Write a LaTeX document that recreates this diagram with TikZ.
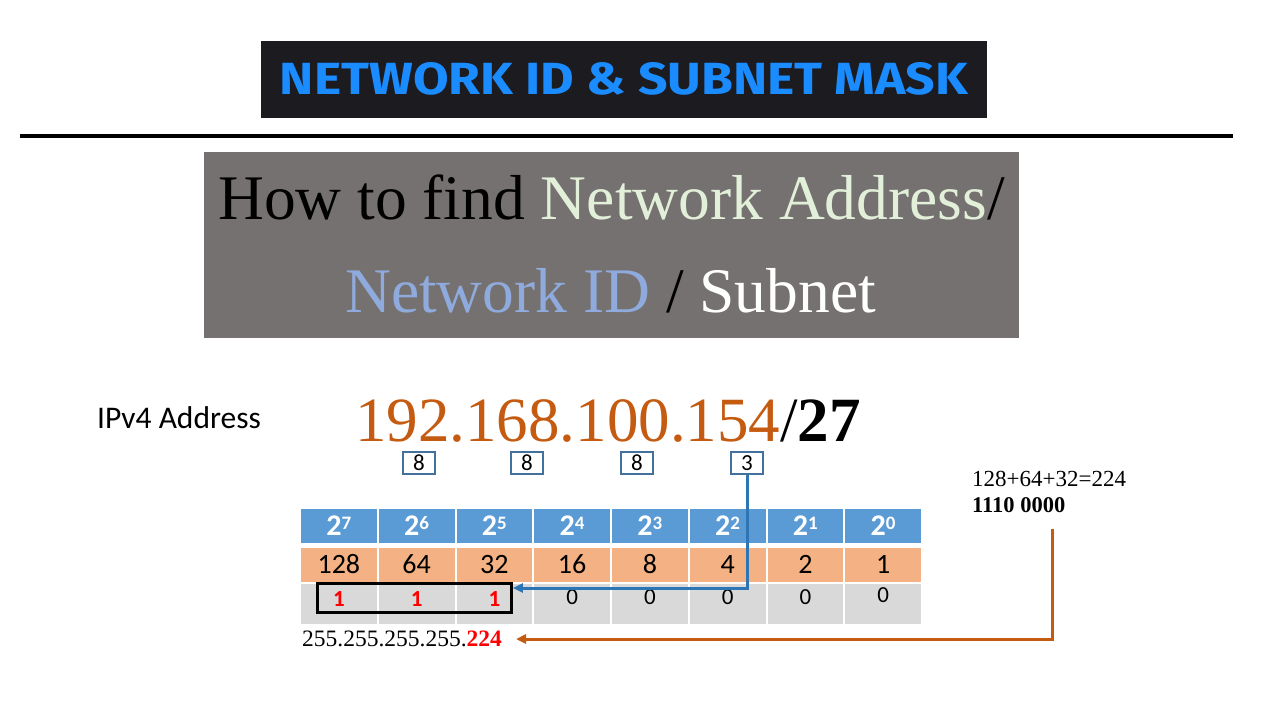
\documentclass[tikz,border=0pt]{standalone}
\usepackage{fontspec}
\setmainfont{Liberation Serif}
\newfontfamily\calib{Carlito}
\newfontfamily\bannerf{Fira Sans}
\usetikzlibrary{arrows.meta}
\definecolor{bannerbg}{HTML}{1B1B20}
\definecolor{bannerblue}{HTML}{1A8CFF}
\definecolor{greybox}{HTML}{767171}
\definecolor{lgreen}{HTML}{E2F0D9}
\definecolor{lblue}{HTML}{8FAADC}
\definecolor{ipor}{HTML}{C55A11}
\definecolor{boxblue}{HTML}{41719C}
\definecolor{lineblue}{HTML}{2E75B6}
\definecolor{hdrblue}{HTML}{5B9BD5}
\definecolor{rowor}{HTML}{F4B183}
\definecolor{rowgr}{HTML}{D9D9D9}
\definecolor{redt}{HTML}{FF0000}
\begin{document}
\begin{tikzpicture}[x=1pt,y=-1pt,
  txt/.style={inner sep=0pt, anchor=base west},
  bitbox/.style={draw=boxblue, line width=1.5pt, fill=white, minimum width=32pt, minimum height=22pt, inner sep=0pt, font=\calib\fontsize{23}{23}\selectfont},
  cell/.style={minimum width=75.75pt, inner sep=0pt, draw=none},
  hdrcell/.style={cell, fill=hdrblue, minimum height=34pt, text=white, font=\calib\bfseries\fontsize{30}{30}\selectfont},
  valcell/.style={cell, fill=rowor, minimum height=34pt, font=\calib\fontsize{28}{28}\selectfont},
  bitcell/.style={cell, fill=rowgr, minimum height=40pt},
  bitval/.style={inner sep=0pt, font=\calib\fontsize{23}{23}\selectfont},
  redbit/.style={inner sep=0pt, text=redt, font=\calib\bfseries\fontsize{23}{23}\selectfont},
  conn/.style={line width=3pt, -{Triangle[length=10pt,width=9pt]}}
]
\useasboundingbox[fill=white] (0,0) rectangle (1280,720);

% banner
\node[fill=bannerbg, minimum width=726pt, minimum height=77pt, inner sep=0pt] (banner) at (624,79.5) {};
\node[inner sep=0pt, text=bannerblue] (bannertxt) at (624,78.5)
  {\resizebox{688pt}{32pt}{\bannerf\bfseries\fontsize{46}{46}\selectfont NETWORK ID \& SUBNET MASK}};

% rule
\coordinate (rl) at (20,136);
\coordinate (rr) at (1233,136);
\draw[line width=4pt] (rl) -- (rr);

% grey title box
\node[fill=greybox, minimum width=815pt, minimum height=186pt, inner sep=0pt] (gbox) at (611.5,245) {};
\node[txt] (t1) at (218,219) {\fontsize{63.5}{63.5}\selectfont How to find \textcolor{lgreen}{Network Address}/};
\node[txt] (t2) at (345,312) {\fontsize{63.5}{63.5}\selectfont \textcolor{lblue}{Network ID} / \textcolor{white}{Subnet}};

% IPv4 line
\node[txt] (ipl) at (97,428) {\calib\fontsize{31.5}{31.5}\selectfont IPv4 Address};
\node[txt] (ip) at (355,441) {\fontsize{63}{63}\selectfont \textcolor{ipor}{192.168.100.154}/\textbf{27}};

% bit count boxes
\node[bitbox] (n1) at (419,463) {8};
\node[bitbox] (n2) at (527,463) {8};
\node[bitbox] (n3) at (637,463) {8};
\node[bitbox] (n4) at (747,463) {3};

% table
\foreach \i/\e/\v in {0/7/128,1/6/64,2/5/32,3/4/16,4/3/8,5/2/4,6/1/2,7/0/1}{
  \pgfmathsetmacro{\cx}{300+77.75*\i+38.875}
  \node[hdrcell] (h\i) at (\cx,526) {2\raisebox{6.5pt}{\fontsize{19}{19}\selectfont\e}};
  \node[valcell] (v\i) at (\cx,564.5) {\v};
  \node[bitcell] (b\i) at (\cx,604) {};
}
\foreach \i in {0,1,2}{
  \node[redbit] (bt\i) at ([yshift=5pt]b\i.center) {1};
}
\foreach \i in {3,4,5,6}{
  \node[bitval] (bt\i) at ([yshift=6.5pt]b\i.center) {0};
}
\node[bitval] (bt7) at ([yshift=9pt]b7.center) {0};

% selection rectangle
\node[draw=black, line width=2.8pt, minimum width=194pt, minimum height=29pt, inner sep=0pt] (sel) at (414.5,598) {};

% mask result
\node[txt] (mask) at (302,646) {\fontsize{23.5}{23.5}\selectfont 255.255.255.255.\textcolor{redt}{\textbf{224}}};

% sum text
\node[txt] (sum) at (972,486) {\fontsize{23}{23}\selectfont 128+64+32=224};
\node[txt] (bin) at (972,512) {\fontsize{22.5}{22.5}\selectfont\bfseries 1110 0000};

% connectors
\draw[conn, draw=lineblue] (n4.south) |- ([yshift=10pt]sel.east);
\coordinate (oc) at (1052,529);
\coordinate (mtip) at (516,639);
\draw[conn, draw=ipor] (oc) |- (mtip);
\end{tikzpicture}
\end{document}
